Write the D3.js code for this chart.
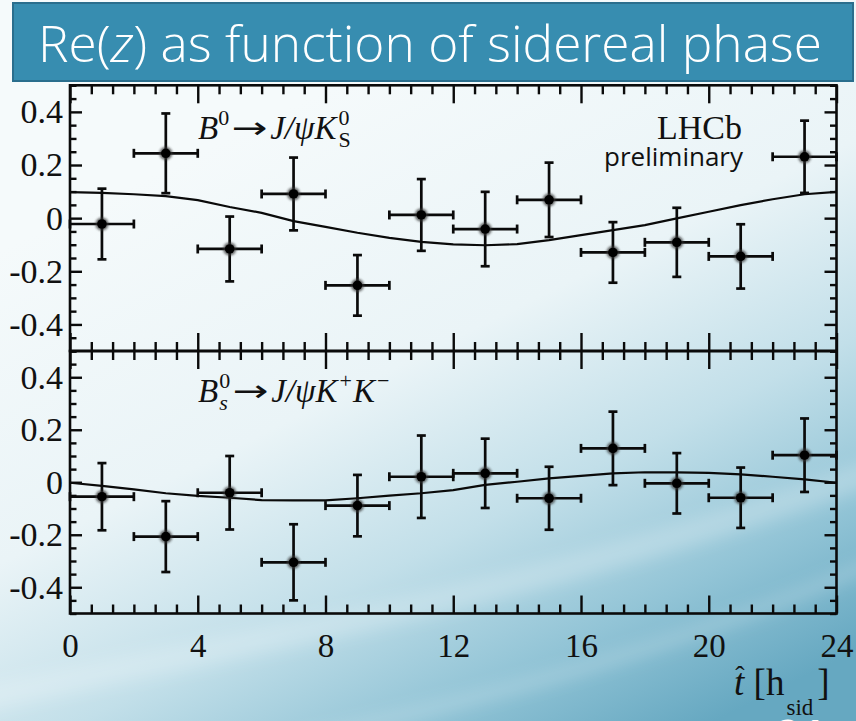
<!DOCTYPE html>
<html>
<head>
<meta charset="utf-8">
<script src="https://cdn.jsdelivr.net/npm/d3@7"></script>
<style>
  html, body { margin: 0; padding: 0; overflow: hidden; background: #ffffff; }
  svg { display: block; }
</style>
</head>
<body>
<svg id="chart" width="856" height="721"></svg>
<script>
// Sidereal-phase bins (centres, in sidereal hours) and their half width
const binCentres = [1, 3, 5, 7, 9, 11, 13, 15, 17, 19, 21, 23];
const binHalfWidth = 1;

// Re(z) measured in B0 -> J/psi K0S
const reZB0  = [-0.022, 0.244, -0.116, 0.091, -0.253, 0.012, -0.041, 0.069, -0.129, -0.091, -0.144, 0.231];
const errB0  = [ 0.133, 0.150,  0.122, 0.137,  0.114, 0.135,  0.140, 0.140,  0.114,  0.130,  0.121, 0.136];

// Re(z) measured in Bs0 -> J/psi K+ K-
const reZBs  = [-0.055, -0.207, -0.040, -0.305, -0.089, 0.021, 0.034, -0.061, 0.129, -0.004, -0.059, 0.103];
const errBs  = [ 0.128,  0.135,  0.140,  0.145,  0.117, 0.157, 0.132,  0.120, 0.140,  0.115,  0.115, 0.140];

// Fitted sidereal modulation, sampled hourly
const fitHours = [0, 1, 2, 3, 4, 5, 6, 7, 8, 9, 10, 11, 12, 13, 14, 15, 16, 17, 18, 19, 20, 21, 22, 23, 24];
const fitB0 = [0.098, 0.095, 0.090, 0.083, 0.068, 0.042, 0.020, -0.011, -0.033, -0.055, -0.074, -0.089,
               -0.099, -0.102, -0.098, -0.083, -0.064, -0.045, -0.026, -0.001, 0.024, 0.049, 0.071, 0.090, 0.099];
const fitBs = [-0.002, -0.014, -0.027, -0.042, -0.052, -0.059, -0.068, -0.069, -0.069, -0.061, -0.051, -0.042,
               -0.030, -0.010, 0.002, 0.015, 0.024, 0.034, 0.038, 0.038, 0.036, 0.030, 0.021, 0.011, -0.002];

// Axis ticks and labels
const hourTicks = [0, 4, 8, 12, 16, 20, 24];
const hourTickLabels = ["0", "4", "8", "12", "16", "20", "24"];
const reZTicks = [-0.4, -0.2, 0, 0.2, 0.4];
const reZTickLabels = ["-0.4", "-0.2", "0", "0.2", "0.4"];

const svg = d3.select("#chart");
const W = 856, H = 721;
const defs = svg.append("defs");

// ---------- slide background ----------
const bg = defs.append("linearGradient").attr("id", "bgGrad")
  .attr("x1", "0.25").attr("y1", "0.2").attr("x2", "0.75").attr("y2", "1.05");
[["0", "#f5fafb"], ["0.38", "#eaf4f7"], ["0.62", "#c2dfe9"], ["0.82", "#92c4d6"], ["1", "#66a8c1"]]
  .forEach(([o, c]) => bg.append("stop").attr("offset", o).attr("stop-color", c));
svg.append("rect").attr("width", W).attr("height", H).attr("fill", "url(#bgGrad)");

const soft = defs.append("filter").attr("id", "soft").attr("x", "-20%").attr("y", "-20%").attr("width", "140%").attr("height", "140%");
soft.append("feGaussianBlur").attr("stdDeviation", 8);
svg.append("path")
  .attr("d", "M -20 700 C 250 640, 520 600, 880 470")
  .attr("fill", "none").attr("stroke", "#ffffff").attr("stroke-opacity", 0.22)
  .attr("stroke-width", 26).attr("filter", "url(#soft)");
svg.append("path")
  .attr("d", "M 300 740 C 520 690, 700 640, 880 560")
  .attr("fill", "none").attr("stroke", "#ffffff").attr("stroke-opacity", 0.18)
  .attr("stroke-width", 14).attr("filter", "url(#soft)");

// ---------- title banner ----------
svg.append("rect").attr("x", 13).attr("y", 3).attr("width", 840).attr("height", 78)
  .attr("fill", "#378db0").attr("stroke", "#2a6e8d").attr("stroke-width", 2);
const title = svg.append("text").attr("x", 38).attr("y", 62)
  .attr("font-family", "'Open Sans', 'Noto Sans', sans-serif").attr("font-weight", 300)
  .attr("font-size", 50).attr("fill", "#ffffff")
  .attr("textLength", 784).attr("lengthAdjust", "spacingAndGlyphs");
title.append("tspan").text("Re(");
title.append("tspan").attr("font-style", "italic").text("z");
title.append("tspan").text(") as function of sidereal phase");

// ---------- scales ----------
const x = d3.scaleLinear().domain([0, 24]).range([70, 836.5]);
const panels = [
  { y: d3.scaleLinear().domain([-0.5, 0.5]).range([351, 85.3]), vals: reZB0, errs: errB0, fit: fitB0 },
  { y: d3.scaleLinear().domain([-0.5, 0.5]).range([613.5, 351]), vals: reZBs, errs: errBs, fit: fitBs }
];

const serif = "'Liberation Serif', 'DejaVu Serif', serif";
const ink = "#0a0a0a";
const minorHours = d3.range(0, 24.001, 2 / 3).filter(h => !hourTicks.some(t => Math.abs(t - h) < 1e-6));
const minorReZ = d3.range(-0.5, 0.5001, 0.05).map(v => +v.toFixed(2)).filter(v => !reZTicks.some(t => Math.abs(t - v) < 1e-6));

const markerHalo = defs.append("filter").attr("id", "halo").attr("x", "-50%").attr("y", "-50%").attr("width", "200%").attr("height", "200%");
markerHalo.append("feGaussianBlur").attr("stdDeviation", 1.2);

panels.forEach((p, i) => {
  const g = svg.append("g");
  const [yBot, yTop] = p.y.range();

  // tick marks, all pointing into the frame
  const addAxis = (axis, transform) => {
    const a = g.append("g").attr("transform", transform).call(axis);
    a.select(".domain").remove();
    a.selectAll(".tick line").attr("stroke", ink).attr("stroke-width", 2.4);
    return a;
  };
  addAxis(d3.axisBottom(x).tickValues(hourTicks).tickSize(-18).tickFormat(""), `translate(0,${yBot})`);
  addAxis(d3.axisBottom(x).tickValues(minorHours).tickSize(-9).tickFormat(""), `translate(0,${yBot})`);
  addAxis(d3.axisTop(x).tickValues(hourTicks).tickSize(-18).tickFormat(""), `translate(0,${yTop})`);
  addAxis(d3.axisTop(x).tickValues(minorHours).tickSize(-9).tickFormat(""), `translate(0,${yTop})`);
  addAxis(d3.axisRight(p.y).tickValues(reZTicks).tickSize(-12).tickFormat(""), `translate(${x.range()[1]},0)`);
  addAxis(d3.axisRight(p.y).tickValues(minorReZ).tickSize(-6.5).tickFormat(""), `translate(${x.range()[1]},0)`);
  addAxis(d3.axisLeft(p.y).tickValues(minorReZ).tickSize(-6.5).tickFormat(""), `translate(${x.range()[0]},0)`);
  const left = addAxis(d3.axisLeft(p.y).tickValues(reZTicks).tickSize(-12).tickPadding(7)
      .tickFormat((d, k) => reZTickLabels[k]), `translate(${x.range()[0]},0)`);
  left.selectAll(".tick text").attr("font-family", serif).attr("font-size", 34).attr("fill", "#111");

  // frame
  g.append("rect").attr("x", x.range()[0]).attr("y", yTop)
    .attr("width", x.range()[1] - x.range()[0]).attr("height", yBot - yTop)
    .attr("fill", "none").attr("stroke", ink).attr("stroke-width", 2.6);

  // fitted curve
  g.append("path").datum(fitHours.map((h, k) => [h, p.fit[k]]))
    .attr("d", d3.line().x(d => x(d[0])).y(d => p.y(d[1])))
    .attr("fill", "none").attr("stroke", ink).attr("stroke-width", 2.2);

  // data points with error bars
  const pts = g.append("g").selectAll("g").data(binCentres.map((h, k) => ({ h, v: p.vals[k], e: p.errs[k] })))
    .join("g");
  const cap = 4.5;
  pts.append("line").attr("x1", d => x(d.h - binHalfWidth)).attr("x2", d => x(d.h + binHalfWidth))
    .attr("y1", d => p.y(d.v)).attr("y2", d => p.y(d.v));
  pts.append("line").attr("x1", d => x(d.h)).attr("x2", d => x(d.h))
    .attr("y1", d => p.y(d.v + d.e)).attr("y2", d => p.y(d.v - d.e));
  [-1, 1].forEach(s => {
    pts.append("line").attr("x1", d => x(d.h + s * binHalfWidth)).attr("x2", d => x(d.h + s * binHalfWidth))
      .attr("y1", d => p.y(d.v) - cap).attr("y2", d => p.y(d.v) + cap);
    pts.append("line").attr("x1", d => x(d.h) - cap).attr("x2", d => x(d.h) + cap)
      .attr("y1", d => p.y(d.v + s * d.e)).attr("y2", d => p.y(d.v + s * d.e));
  });
  pts.selectAll("line").attr("stroke", ink).attr("stroke-width", 2.7);
  pts.append("circle").attr("cx", d => x(d.h)).attr("cy", d => p.y(d.v)).attr("r", 6.6)
    .attr("fill", "#333").attr("fill-opacity", 0.7).attr("filter", "url(#halo)");
  pts.append("circle").attr("cx", d => x(d.h)).attr("cy", d => p.y(d.v)).attr("r", 4.8).attr("fill", "#000");

  if (i === 1) {
    const bx = g.append("g").attr("transform", `translate(0,${yBot})`)
      .call(d3.axisBottom(x).tickValues(hourTicks).tickSize(0).tickPadding(20)
        .tickFormat((d, k) => hourTickLabels[k]));
    bx.select(".domain").remove();
    bx.selectAll(".tick text").attr("font-family", serif).attr("font-size", 33).attr("fill", "#111");
  }
});

// ---------- decay-channel labels ----------
// Each part is laid out left to right; a nested array stacks a superscript over a subscript.
function richLabel(x0, y0, parts) {
  let cx = x0;
  parts.forEach(part => {
    const items = Array.isArray(part) ? part : [part];
    let adv = 0;
    items.forEach(it => {
      const t = svg.append("text").attr("x", cx).attr("y", y0 + (it.dy || 0))
        .attr("font-family", it.family || serif).attr("font-size", it.size || 33)
        .attr("font-style", it.italic ? "italic" : "normal").attr("fill", "#111").text(it.t);
      if (it.w) t.attr("textLength", it.w).attr("lengthAdjust", "spacingAndGlyphs");
      adv = Math.max(adv, (it.w || t.node().getComputedTextLength()) + (it.gap || 0));
    });
    cx += adv;
  });
}
const sup = -14, sub = 8, small = 22;
const arrow = { t: "\u2192", family: "'DejaVu Sans', sans-serif", size: 30, w: 36, gap: 3, dy: -1 };
richLabel(198, 139, [
  { t: "B", italic: true },
  { t: "0", size: small, dy: sup, gap: 2 },
  arrow,
  { t: "J/\u03C8K", italic: true, gap: 2 },
  [{ t: "0", size: small, dy: sup }, { t: "S", size: small, dy: sub }]
]);
richLabel(198, 402, [
  { t: "B", italic: true, gap: 1 },
  [{ t: "0", size: small, dy: sup }, { t: "s", size: small, dy: sub, italic: true }],
  { t: "", gap: 2 },
  arrow,
  { t: "J/\u03C8K", italic: true, gap: 2 },
  { t: "+", size: small, dy: sup, gap: 1 },
  { t: "K", italic: true, gap: 2 },
  { t: "\u2212", size: small, dy: sup }
]);

// ---------- experiment tag ----------
const tag = svg.append("text").attr("text-anchor", "end").attr("fill", "#111");
tag.append("tspan").attr("x", 742).attr("y", 139)
  .attr("font-family", serif).attr("font-size", 34).text("LHCb");
tag.append("tspan").attr("x", 743).attr("y", 166)
  .attr("font-family", "'Open Sans', 'Noto Sans', sans-serif").attr("font-size", 26).text("preliminary");

// ---------- x-axis title ----------
const xTitle = svg.append("text").attr("x", 734).attr("y", 695)
  .attr("font-family", serif).attr("font-size", 37).attr("fill", "#111");
xTitle.append("tspan").attr("font-style", "italic").text("t");
xTitle.append("tspan").attr("dx", -9).attr("dy", -10).attr("font-size", 28).text("\u02C6");
xTitle.append("tspan").attr("dx", 9).attr("dy", 10).text("[h");
xTitle.append("tspan").attr("dx", 2).attr("dy", 20).attr("font-size", 23).text("sid");
xTitle.append("tspan").attr("dx", 4).attr("dy", -20).text("]");

// ---------- slide number ----------
svg.append("text").attr("x", 800).attr("y", 752).attr("text-anchor", "middle")
  .attr("font-family", "'Open Sans', sans-serif").attr("font-weight", 700).attr("font-size", 44)
  .attr("fill", "#ffffff").text("21");
</script>
</body>
</html>
